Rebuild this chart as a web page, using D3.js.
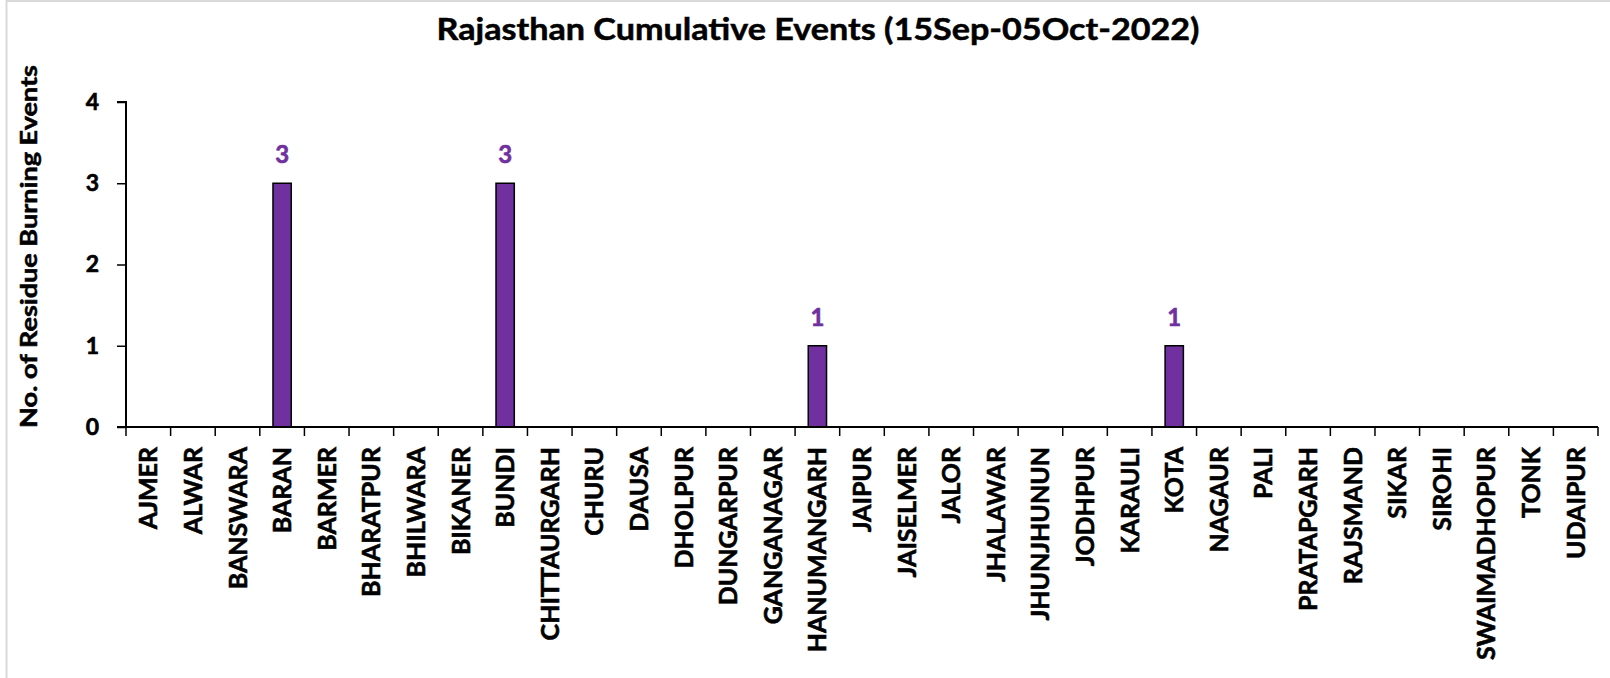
<!DOCTYPE html>
<html>
<head>
<meta charset="utf-8">
<script src="https://cdn.jsdelivr.net/npm/d3@7"></script>
<style>
  body { margin: 0; background: #fff; }
  text { font-family: Lato, 'Liberation Sans', sans-serif; font-weight: bold; }
</style>
</head>
<body>
<svg id="chart"></svg>
<script>
const districts = ['AJMER', 'ALWAR', 'BANSWARA', 'BARAN', 'BARMER', 'BHARATPUR', 'BHILWARA', 'BIKANER',
  'BUNDI', 'CHITTAURGARH', 'CHURU', 'DAUSA', 'DHOLPUR', 'DUNGARPUR', 'GANGANAGAR', 'HANUMANGARH',
  'JAIPUR', 'JAISELMER', 'JALOR', 'JHALAWAR', 'JHUNJHUNUN', 'JODHPUR', 'KARAULI', 'KOTA', 'NAGAUR',
  'PALI', 'PRATAPGARH', 'RAJSMAND', 'SIKAR', 'SIROHI', 'SWAIMADHOPUR', 'TONK', 'UDAIPUR']
const events = [0, 0, 0, 3, 0, 0, 0, 0, 3, 0, 0, 0, 0, 0, 0, 1, 0, 0, 0, 0, 0, 0, 0, 1, 0, 0, 0, 0, 0, 0, 0, 0, 0]
const yTicks = [0, 1, 2, 3, 4]
const title = 'Rajasthan Cumulative Events (15Sep-05Oct-2022)'
const yTitle = 'No. of Residue Burning Events'

const width = 1610
const height = 678
const margin = { top: 102, bottom: 251, left: 126, right: 12 }
const barColor = '#7030A0'

const data = districts.map((d, i) => ({ name: d, value: events[i] }))

const svg = d3.select('#chart')
  .attr('width', width)
  .attr('height', height)

// chart frame (only top/left edges show in the crop)
svg.append('path')
  .attr('d', `M6.5,${height} V1 H${width}`)
  .attr('fill', 'none')
  .attr('stroke', '#d9d9d9')
  .attr('stroke-width', 2)

const xScale = d3.scaleBand()
  .domain(districts)
  .range([margin.left, width - margin.right])
  .padding(0)

const yScale = d3.scaleLinear()
  .domain([0, 4])
  .range([height - margin.bottom, margin.top])

const bw = xScale.bandwidth()

// bars
svg.append('g')
  .selectAll('rect')
  .data(data.filter(d => d.value > 0))
  .enter()
  .append('rect')
  .attr('x', d => xScale(d.name) + bw * 0.295)
  .attr('y', d => yScale(d.value))
  .attr('width', bw * 0.41)
  .attr('height', d => yScale(0) - yScale(d.value))
  .attr('fill', barColor)
  .attr('stroke', '#000')
  .attr('stroke-width', 1.5)

// value labels
svg.append('g')
  .selectAll('text')
  .data(data.filter(d => d.value > 0))
  .enter()
  .append('text')
  .attr('x', d => xScale(d.name) + bw / 2)
  .attr('y', d => yScale(d.value) - 20)
  .attr('text-anchor', 'middle')
  .attr('font-size', 24)
  .attr('fill', barColor)
  .attr('stroke', barColor)
  .attr('stroke-width', 0.6)
  .text(d => d.value)

// y axis
const yAxis = d3.axisLeft(yScale)
  .tickValues(yTicks)
  .tickSize(9)
  .tickPadding(18)
  .tickFormat(d3.format('d'))

const yG = svg.append('g')
  .attr('transform', `translate(${margin.left},0)`)
  .call(yAxis)
yG.select('.domain').attr('stroke-width', 2).attr('d', `M-9,${yScale(4)}H0V${yScale(0)}`)
yG.selectAll('.tick line').attr('stroke-width', 1.5)
yG.selectAll('.tick text')
  .attr('font-size', 23)
  .attr('font-family', 'Lato, sans-serif')
  .attr('font-weight', 'bold')
  .attr('fill', '#000')
  .attr('stroke', '#000')
  .attr('stroke-width', 0.6)

// x axis: line, ticks at category boundaries
const baseY = yScale(0)
const xG = svg.append('g')
xG.append('line')
  .attr('x1', margin.left - 9)
  .attr('x2', width - margin.right)
  .attr('y1', baseY)
  .attr('y2', baseY)
  .attr('stroke', '#000')
  .attr('stroke-width', 2)

const bounds = districts.map(d => xScale(d)).concat([xScale.range()[1]])
xG.selectAll('.xtick')
  .data(bounds)
  .enter()
  .append('line')
  .attr('x1', d => d)
  .attr('x2', d => d)
  .attr('y1', baseY)
  .attr('y2', baseY + 9)
  .attr('stroke', '#000')
  .attr('stroke-width', 1.5)

xG.selectAll('.xlabel')
  .data(districts)
  .enter()
  .append('text')
  .attr('transform', d => `translate(${xScale(d) + bw / 2},${baseY + 20}) rotate(-90)`)
  .attr('text-anchor', 'end')
  .attr('dy', '0.36em')
  .attr('font-size', 25)
  .attr('fill', '#000')
  .attr('stroke', '#000')
  .attr('stroke-width', 0.6)
  .text(d => d)

// titles
svg.append('text')
  .attr('x', 818)
  .attr('y', 40)
  .attr('text-anchor', 'middle')
  .attr('font-size', 31)
  .attr('textLength', 763)
  .attr('lengthAdjust', 'spacingAndGlyphs')
  .attr('fill', '#000')
  .attr('stroke', '#000')
  .attr('stroke-width', 0.5)
  .text(title)

svg.append('text')
  .attr('transform', `translate(37,${(65 + 428) / 2}) rotate(-90)`)
  .attr('text-anchor', 'middle')
  .attr('font-size', 22)
  .attr('textLength', 363)
  .attr('lengthAdjust', 'spacingAndGlyphs')
  .attr('fill', '#000')
  .attr('stroke', '#000')
  .attr('stroke-width', 0.5)
  .text(yTitle)
</script>
</body>
</html>
